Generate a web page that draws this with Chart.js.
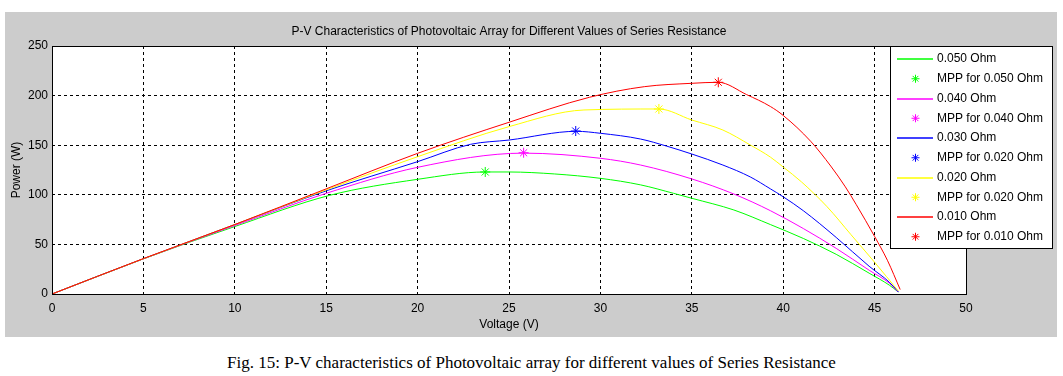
<!DOCTYPE html>
<html>
<head>
<meta charset="utf-8">
<script src="https://cdn.jsdelivr.net/npm/chart.js@4.4.1/dist/chart.umd.min.js"></script>
<style>
  body { margin: 0; background: #fff; width: 1063px; height: 376px; position: relative; overflow: hidden; }
  #chart-box { position: absolute; left: 0; top: 0; width: 1063px; height: 340px; }
  #caption { position: absolute; left: 0; width: 1063px; top: 353px; text-align: center;
             font-family: 'Liberation Serif', 'Times New Roman', serif; font-size: 17px; color: #000; }
</style>
</head>
<body>
<div id="chart-box"><canvas id="pv-chart" width="1063" height="340"></canvas></div>
<div id="caption">Fig. 15: P-V characteristics of Photovoltaic array for different values of Series Resistance</div>
<script>
// values (Voltage in V, Power in W)
const voltage050 = [0, 5, 10, 15.2, 20, 23.7, 25, 27.5, 30, 32.2, 34, 35, 37.3, 39.3, 41.1, 42.9, 44.7, 45.8, 46.3];
const power050   = [0, 35.5, 68, 99.5, 115.6, 123, 123, 121, 116.6, 110, 101.5, 96.5, 84.7, 70, 56, 40, 21, 9, 2];

const voltage040 = [0, 5, 10, 15, 20, 25.8, 30, 32.2, 35, 37.3, 39.3, 41.1, 42.9, 44.7, 45.8, 46.3];
const power040   = [0, 35.5, 69, 101.5, 127.7, 142, 136.8, 130, 116, 100.8, 84, 66, 46, 24, 11, 2];

const voltage030 = [0, 5, 10, 15, 20, 22.9, 25, 28.7, 30, 32.2, 33.6, 35, 36.7, 38.2, 39.3, 40, 41.1, 42.9, 44.7, 45.8, 46.3];
const power030   = [0, 35.5, 70, 104, 133.4, 150.9, 155.2, 164, 162, 156.2, 149.2, 141.1, 130, 118, 106, 98, 84, 57, 28, 12, 2];

const voltage020 = [0, 5, 10, 15, 20, 25, 29.1, 33.2, 35, 36.7, 38.2, 39.3, 40, 41, 42.4, 43.7, 45, 46.3];
const power020   = [0, 35.5, 70, 105, 138.4, 168.7, 185.5, 186.5, 175.4, 165.3, 150.2, 138, 128, 113, 88, 60, 32, 3];

const voltage010 = [0, 5, 10, 15, 20, 25, 29.4, 32.4, 35, 36.45, 38, 39.3, 40, 41.5, 42.6, 43.4, 44, 45, 45.7, 46.4];
const power010   = [0, 35.7, 70, 106, 141.8, 173.1, 198.3, 209, 212.4, 213.4, 201, 189, 180, 154, 129, 108, 90, 58, 34, 4.5];

const mppVoltage = [23.7, 25.8, 28.65, 33.2, 36.45];
const mppPower   = [123, 142.4, 164.3, 186.5, 213.4];

const seriesNames = ['0.050 Ohm', '0.040 Ohm', '0.030 Ohm', '0.020 Ohm', '0.010 Ohm'];
const mppNames = ['MPP for 0.050 Ohm', 'MPP for 0.040 Ohm', 'MPP for 0.020 Ohm', 'MPP for 0.020 Ohm', 'MPP for 0.010 Ohm'];
const seriesColors = ['#00ff00', '#ff00ff', '#0000ff', '#ffff00', '#ff0000'];

const xTicks = [0, 5, 10, 15, 20, 25, 30, 35, 40, 45, 50];
const yTicks = [0, 50, 100, 150, 200, 250];

const voltages = [voltage050, voltage040, voltage030, voltage020, voltage010];
const powers = [power050, power040, power030, power020, power010];

const FONT = "'Liberation Sans', Arial, sans-serif";

const datasets = [];
seriesNames.forEach((name, i) => {
    datasets.push({
        label: name,
        type: 'line',
        data: voltages[i].map((v, k) => ({ x: v, y: powers[i][k] })),
        borderColor: seriesColors[i],
        backgroundColor: seriesColors[i],
        borderWidth: 1,
        pointRadius: 0,
        cubicInterpolationMode: 'monotone',
        fill: false,
        order: 20 - i * 2
    });
    datasets.push({
        label: mppNames[i],
        type: 'scatter',
        data: [{ x: mppVoltage[i], y: mppPower[i] }],
        borderColor: seriesColors[i],
        backgroundColor: seriesColors[i],
        borderWidth: 1,
        pointStyle: 'star',
        pointRadius: 5,
        showLine: false,
        order: 19 - i * 2
    });
});

// gray figure panel, white plot area, black frame
const panelPlugin = {
    id: 'panel',
    beforeDraw(chart) {
        const ctx = chart.ctx;
        const a = chart.chartArea;
        ctx.save();
        ctx.fillStyle = '#cccccc';
        ctx.fillRect(5, 12, 1052, 325);
        ctx.fillStyle = '#ffffff';
        ctx.fillRect(a.left, a.top, a.right - a.left, a.bottom - a.top);
        ctx.restore();
    },
    afterDatasetsDraw(chart) {
        const ctx = chart.ctx;
        const a = chart.chartArea;
        ctx.save();
        ctx.strokeStyle = '#000';
        ctx.lineWidth = 1;
        ctx.strokeRect(Math.round(a.left) + 0.5, Math.round(a.top) + 0.5,
                       Math.round(a.right - a.left), Math.round(a.bottom - a.top));
        ctx.restore();
    }
};

// MATLAB style legend box sitting over the top right corner
const boxLegend = {
    id: 'boxLegend',
    afterDraw(chart) {
        const ctx = chart.ctx;
        const x0 = 890, y0 = 46, w = 162, h = 202, row = 19.75;
        ctx.save();
        ctx.fillStyle = '#fff';
        ctx.fillRect(x0, y0, w, h);
        ctx.strokeStyle = '#000';
        ctx.lineWidth = 1;
        ctx.strokeRect(x0 + 0.5, y0 + 0.5, w, h);
        ctx.font = '12px ' + FONT;
        ctx.textBaseline = 'middle';
        chart.data.datasets.forEach((ds, k) => {
            const y = y0 + 13 + k * row;
            ctx.strokeStyle = ds.borderColor;
            if (ds.type === 'line') {
                ctx.lineWidth = 1.5;
                ctx.beginPath();
                ctx.moveTo(897, Math.round(y));
                ctx.lineTo(933, Math.round(y));
                ctx.stroke();
            } else {
                ctx.lineWidth = 1;
                ctx.fillStyle = ds.borderColor;
                Chart.helpers.drawPoint(ctx, { pointStyle: 'star', radius: 4, rotation: 0, borderWidth: 1 }, 915.5, y);
            }
            ctx.fillStyle = '#000';
            ctx.fillText(ds.label, 937, y);
        });
        ctx.restore();
    }
};

new Chart(document.getElementById('pv-chart'), {
    type: 'scatter',
    data: { datasets: datasets },
    options: {
        responsive: false,
        animation: false,
        layout: { padding: { left: 5, right: 97, top: 12, bottom: 3 } },
        scales: {
            x: {
                type: 'linear',
                min: 0,
                max: 50,
                afterBuildTicks: scale => { scale.ticks = xTicks.map(v => ({ value: v })); },
                afterFit: scale => { scale.height = 43; },
                ticks: { color: '#000', font: { family: FONT, size: 12 }, padding: 7 },
                grid: { color: '#000', lineWidth: 1, drawTicks: false },
                border: { display: false, dash: [3, 3] },
                title: { display: true, text: 'Voltage (V)', color: '#000',
                         font: { family: FONT, size: 12 }, padding: { top: 0, bottom: 5 } }
            },
            y: {
                type: 'linear',
                min: 0,
                max: 250,
                afterBuildTicks: scale => { scale.ticks = yTicks.map(v => ({ value: v })); },
                afterFit: scale => { scale.width = 47; },
                ticks: { color: '#000', font: { family: FONT, size: 12 }, padding: 4 },
                grid: { color: '#000', lineWidth: 1, drawTicks: false },
                border: { display: false, dash: [3, 3] },
                title: { display: true, text: 'Power (W)', color: '#000',
                         font: { family: FONT, size: 12 }, padding: { top: 4, bottom: 0 } }
            }
        },
        plugins: {
            legend: { display: false },
            tooltip: { enabled: false },
            title: {
                display: true,
                fullSize: false,
                text: 'P-V Characteristics of Photovoltaic Array for Different Values of Series Resistance',
                color: '#000',
                font: { family: FONT, size: 12, weight: 'normal' },
                padding: { top: 12, bottom: 7.6 }
            }
        }
    },
    plugins: [panelPlugin, boxLegend]
});
</script>
</body>
</html>
